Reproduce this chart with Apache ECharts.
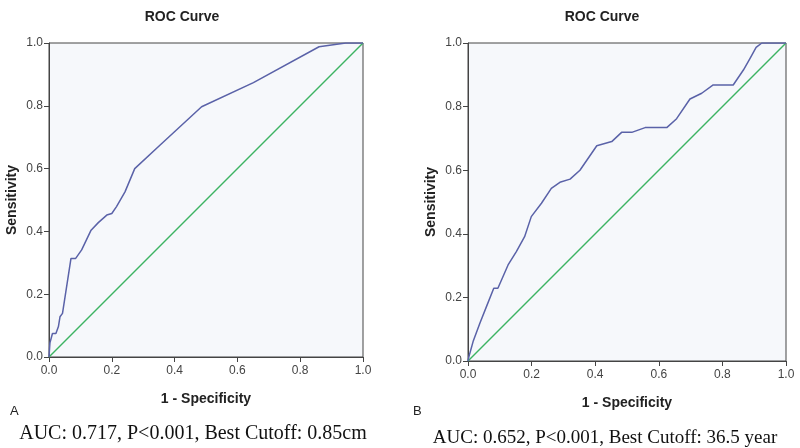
<!DOCTYPE html>
<html>
<head>
<meta charset="utf-8">
<script src="https://cdn.jsdelivr.net/npm/echarts@6/dist/echarts.min.js"></script>
<style>html,body{margin:0;padding:0;background:#fff}#c{width:800px;height:448px}</style>
</head>
<body>
<div id="c"></div>
<script>
// ROC curve A: [1 - specificity, sensitivity]
const rocA = [[0,0],[0.003,0.045],[0.011,0.075],[0.022,0.075],[0.03,0.097],[0.035,0.128],[0.043,0.139],[0.07,0.314],[0.085,0.314],[0.104,0.341],[0.134,0.404],[0.157,0.428],[0.184,0.452],[0.2,0.457],[0.215,0.479],[0.242,0.526],[0.273,0.60],[0.354,0.675],[0.486,0.797],[0.651,0.874],[0.86,0.988],[0.945,1.0],[1,1]];
// ROC curve B
const rocB = [[0,0],[0.003,0.014],[0.016,0.061],[0.037,0.118],[0.058,0.171],[0.081,0.229],[0.094,0.229],[0.126,0.302],[0.152,0.344],[0.178,0.391],[0.199,0.454],[0.231,0.496],[0.262,0.543],[0.289,0.562],[0.321,0.572],[0.352,0.60],[0.405,0.677],[0.452,0.690],[0.483,0.719],[0.515,0.719],[0.557,0.734],[0.625,0.734],[0.656,0.762],[0.698,0.824],[0.735,0.842],[0.771,0.868],[0.834,0.868],[0.866,0.915],[0.887,0.952],[0.906,0.986],[0.924,1.0],[1,1]];
const reference = [[0,0],[1,1]];
const chartTitle = 'ROC Curve';
const xName = '1 - Specificity';
const yName = 'Sensitivity';
const panelLabels = ['A','B'];
const captions = ['AUC: 0.717, P<0.001, Best Cutoff: 0.85cm','AUC: 0.652, P<0.001, Best Cutoff: 36.5 year'];

const chart = echarts.init(document.getElementById('c'));
const sans = 'Arial, "Liberation Sans", sans-serif';
const serif = '"Liberation Serif","Times New Roman",serif';
function xAxis(i){
  return {gridIndex:i,type:'value',min:0,max:1,interval:0.2,
    name:xName,nameLocation:'middle',nameGap:35,
    nameTextStyle:{fontFamily:sans,fontWeight:'bold',fontSize:14,color:'#222'},
    axisLine:{onZero:false,lineStyle:{color:'#444',width:1}},
    axisTick:{show:true,length:5,lineStyle:{color:'#444'}},
    axisLabel:{fontFamily:sans,fontSize:12,color:'#444',margin:8,formatter:v=>v.toFixed(1)},
    splitLine:{show:false}};
}
function yAxis(i){
  return {gridIndex:i,type:'value',min:0,max:1,interval:0.2,
    name:yName,nameLocation:'middle',nameGap:30,
    nameTextStyle:{fontFamily:sans,fontWeight:'bold',fontSize:14,color:'#222'},
    axisLine:{onZero:false,lineStyle:{color:'#444',width:1}},
    axisTick:{show:true,length:5,lineStyle:{color:'#444'}},
    axisLabel:{fontFamily:sans,fontSize:12,color:'#444',margin:6,formatter:v=>v.toFixed(1)},
    splitLine:{show:false}};
}
chart.setOption({
  animation:false,
  title:[
    {text:chartTitle,left:177,top:5,textAlign:'center',textStyle:{fontFamily:sans,fontWeight:'bold',fontSize:14,color:'#222'}},
    {text:chartTitle,left:597,top:5,textAlign:'center',textStyle:{fontFamily:sans,fontWeight:'bold',fontSize:14,color:'#222'}},
    {text:panelLabels[0],left:5,top:400,textStyle:{fontFamily:sans,fontWeight:'normal',fontSize:13,color:'#222'}},
    {text:panelLabels[1],left:408,top:400,textStyle:{fontFamily:sans,fontWeight:'normal',fontSize:13,color:'#222'}},
    {text:captions[0],left:188,top:419,textAlign:'center',textStyle:{fontFamily:serif,fontWeight:'normal',fontSize:20,color:'#111'}},
    {text:captions[1],left:600,top:424,textAlign:'center',textStyle:{fontFamily:serif,fontWeight:'normal',fontSize:19,color:'#111'}}
  ],
  grid:[
    {left:49,top:43,width:314,height:314,show:true,backgroundColor:'#f6f8fb',borderColor:'#444',borderWidth:1},
    {left:468,top:43,width:318,height:318,show:true,backgroundColor:'#f6f8fb',borderColor:'#444',borderWidth:1}
  ],
  xAxis:[xAxis(0),xAxis(1)],
  yAxis:[yAxis(0),yAxis(1)],
  series:[
    {type:'line',xAxisIndex:0,yAxisIndex:0,data:reference,symbol:'none',lineStyle:{color:'#3cb363',width:1.5}},
    {type:'line',xAxisIndex:0,yAxisIndex:0,data:rocA,symbol:'none',lineStyle:{color:'#5a62a8',width:1.5}},
    {type:'line',xAxisIndex:1,yAxisIndex:1,data:reference,symbol:'none',lineStyle:{color:'#3cb363',width:1.5}},
    {type:'line',xAxisIndex:1,yAxisIndex:1,data:rocB,symbol:'none',lineStyle:{color:'#5a62a8',width:1.5}}
  ]
});
</script>
</body>
</html>
